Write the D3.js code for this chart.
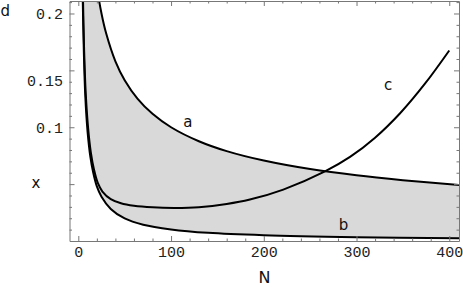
<!DOCTYPE html>
<html>
<head>
<meta charset="utf-8">
<script src="https://cdn.jsdelivr.net/npm/d3@7"></script>
<style>
  html, body { margin: 0; padding: 0; background: #fff; }
  svg { display: block; }
  .lbl { font-family: "DejaVu Sans", sans-serif; font-size: 15px; fill: #111; }
  .tick text { font-family: "Liberation Mono", monospace; font-size: 15px; fill: #222; }
</style>
</head>
<body>
<svg id="chart" width="463" height="287"></svg>
<script>
// values: [N, d]
const curveA = [[4, 0.5], [10, 0.316], [16, 0.25], [20, 0.2236], [25, 0.2], [30, 0.1826],
  [40, 0.158], [50, 0.1414], [64, 0.125], [80, 0.1118], [100, 0.1], [130, 0.0877],
  [160, 0.079], [200, 0.0707], [250, 0.0632], [300, 0.0577], [350, 0.0535], [411, 0.0493]];
const curveB = [[4, 0.25], [4.8, 0.211], [6, 0.165], [7.5, 0.128], [10, 0.096], [13, 0.074],
  [16, 0.0605], [20, 0.048], [25, 0.039], [35, 0.0282], [50, 0.0198], [70, 0.0143],
  [100, 0.0102], [140, 0.0072], [200, 0.0051], [300, 0.0034], [411, 0.0024]];
const curveC = [[4.3, 0.25], [5.1, 0.211], [6.3, 0.167], [8, 0.13], [10.5, 0.1], [13.5, 0.078],
  [17, 0.0625], [21, 0.051], [26, 0.0435], [35, 0.0368], [46, 0.0332], [60, 0.031],
  [80, 0.0296], [104, 0.0291], [130, 0.0297], [160, 0.0325], [185, 0.0364], [221, 0.0452],
  [266, 0.0612], [293, 0.0739], [320, 0.0908], [347, 0.1123], [374, 0.1385], [400, 0.1675]];
const xMajor = [0, 100, 200, 300, 400];
const yMajor = [0.05, 0.1, 0.15, 0.2];
const curveLabels = [["a", 118, 0.1], ["b", 286, 0.01], ["c", 334, 0.133]];

const svg = d3.select("#chart");
const L = 69.5, R = 459, T = 1, B = 241;

const x = d3.scaleLinear().domain([-9.5, 410.5]).range([L, R]);
const y = d3.scaleLinear().domain([0, 0.21098]).range([B, T]);

svg.append("clipPath").attr("id", "clip")
  .append("rect").attr("x", L).attr("y", T).attr("width", R - L).attr("height", B - T);

const plot = svg.append("g").attr("clip-path", "url(#clip)");

// shaded band between a and b: area under a, then area under b painted white
const under = d3.area().x(p => x(p[0])).y0(B).y1(p => y(p[1])).curve(d3.curveCatmullRom);
plot.append("path").attr("d", under(curveA)).attr("fill", "#d9d9d9");
plot.append("path").attr("d", under(curveB)).attr("fill", "#fff");

const line = d3.line().x(p => x(p[0])).y(p => y(p[1])).curve(d3.curveCatmullRom);
[curveA, curveB, curveC].forEach(c => {
  plot.append("path").attr("d", line(c))
    .attr("fill", "none").attr("stroke", "#000").attr("stroke-width", 2);
});

// frame with inward ticks on all four sides
const xMinor = d3.range(20, 401, 20).filter(v => v % 100 !== 0);
const yMinor = d3.range(1, 22).map(i => i / 100).filter(v => Math.round(v * 100) % 5 !== 0);

function frame(axisFn, scale, pos, major, minor, labels) {
  const g = svg.append("g").attr("transform", pos);
  g.call(axisFn(scale).tickValues(major).tickSize(-5).tickSizeOuter(0).tickPadding(5)
    .tickFormat(labels ? labels : ""));
  const m = svg.append("g").attr("transform", pos);
  m.call(axisFn(scale).tickValues(minor).tickSize(-2.5).tickSizeOuter(0).tickFormat(""));
  m.select(".domain").remove();
  [g, m].forEach(s => s.selectAll("line, path").attr("stroke", "#777"));
  return g;
}

frame(d3.axisBottom, x, `translate(0,${B})`, xMajor, xMinor, d => String(d));
frame(d3.axisTop, x, `translate(0,${T})`, xMajor, xMinor, null);
const left = frame(d3.axisLeft, y, `translate(${L},0)`, yMajor, yMinor,
  d => (d === 0.05 ? "" : String(d)));
frame(d3.axisRight, y, `translate(${R},0)`, yMajor, yMinor, null);

left.selectAll(".tick text").attr("x", -6.5);
// the 0.15 label sits lower than its tick in the original figure
left.selectAll(".tick").filter(d => d === 0.15).select("text").attr("dy", "1.0em");

// curve and axis labels
curveLabels.forEach(([t, n, v]) => {
  svg.append("text").attr("class", "lbl").attr("x", x(n)).attr("y", y(v))
    .attr("text-anchor", "middle").text(t);
});
svg.append("text").attr("class", "lbl").attr("x", 264.5).attr("y", 283)
  .attr("text-anchor", "middle").style("font-size", "16px").text("N");
svg.append("text").attr("class", "lbl").attr("x", 0.5).attr("y", 16).text("d");
svg.append("text").attr("class", "lbl").attr("x", 36).attr("y", 188)
  .attr("text-anchor", "middle").text("x");
</script>
</body>
</html>
